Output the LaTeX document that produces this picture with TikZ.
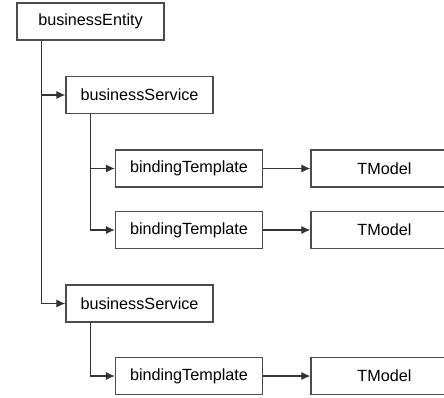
\documentclass[tikz,border=0pt]{standalone}
\usepackage{fontspec}
\setmainfont{Liberation Sans}
\usetikzlibrary{arrows.meta,calc}
\begin{document}
\begin{tikzpicture}[x=1pt,y=-1pt,
  box/.style={draw=black!70,line width=1.2pt,fill=white,rectangle,minimum width=147pt,minimum height=37pt,inner sep=0pt,font=\fontsize{16.2}{19}\selectfont},
  conn/.style={draw=black!80,line width=1.1pt,-{Latex[length=9pt,width=8pt]}}]
\useasboundingbox (0,0) rectangle (444,397);
\clip (0,0) rectangle (444,397);
\fill[white] (0,0) rectangle (444,397);
\node[box] (be) at (90.5,21.5) {businessEntity};
\node[box] (bs1) at (139.5,95) {businessService};
\node[box] (bt1) at (189,168.5) {bindingTemplate};
\node[box] (tm1) at (384.5,168.5) {TModel};
\node[box] (bt2) at (189,230) {bindingTemplate};
\node[box] (tm2) at (384.5,230) {TModel};
\node[box] (bs2) at (139.5,303.5) {businessService};
\node[box] (bt3) at (189,376) {bindingTemplate};
\node[box] (tm3) at (384.5,376) {TModel};
\coordinate (beo) at ($(be.south west)+(25.5,0)$);
\coordinate (bs1o) at ($(bs1.south west)+(25.5,0)$);
\coordinate (bs2o) at ($(bs2.south west)+(25.5,0)$);
\draw[conn] (beo) |- (bs1.west);
\draw[conn] (beo) |- (bs2.west);
\draw[conn] (bs1o) |- (bt1.west);
\draw[conn] (bs1o) |- (bt2.west);
\draw[conn] (bs2o) |- (bt3.west);
\draw[conn] (bt1.east) -- (tm1.west);
\draw[conn] (bt2.east) -- (tm2.west);
\draw[conn] (bt3.east) -- (tm3.west);
\end{tikzpicture}
\end{document}
